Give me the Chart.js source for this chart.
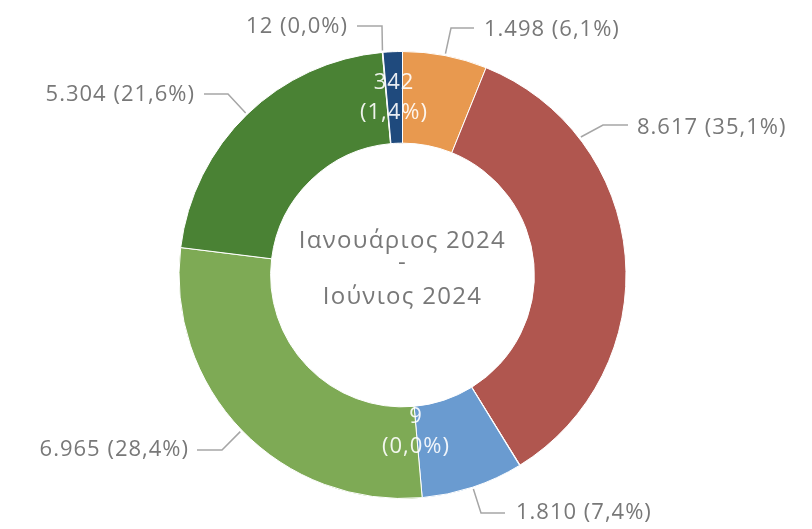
<!DOCTYPE html>
<html>
<head>
<meta charset="utf-8">
<script src="https://cdn.jsdelivr.net/npm/chart.js@4/dist/chart.umd.min.js"></script>
<style>
  html, body { margin: 0; padding: 0; background: #fff; }
  #wrap { width: 812px; height: 529px; }
</style>
</head>
<body>
<div id="wrap"><canvas id="donut"></canvas></div>
<script>
// Data
const categories = ['Κατηγορία 1', 'Κατηγορία 2', 'Κατηγορία 3', 'Κατηγορία 4', 'Κατηγορία 5', 'Κατηγορία 6', 'Κατηγορία 7', 'Κατηγορία 8'];
const values = [1498, 8617, 9, 1810, 6965, 5304, 12, 342];
const percentLabels = ['6,1%', '35,1%', '0,0%', '7,4%', '28,4%', '21,6%', '0,0%', '1,4%'];
const colors = ['#E8994F', '#B0564F', '#8FA6C8', '#6A9BD0', '#7EAA55', '#4A8234', '#9C9C9C', '#1F4A7D'];
const centerLines = ['Ιανουάριος 2024', '-', 'Ιούνιος 2024'];

const fmt = v => v.toLocaleString('de-DE');

// label layout: where the leader leaves the ring (fraction along the slice),
// elbow, end of line, text anchor
const outside = {
  0: { f: 0.5, elbow: [451, 28], end: [474, 28], text: [484, 30], align: 'left' },
  1: { f: 0.24, elbow: [603, 125], end: [628, 125], text: [637, 128], align: 'left' },
  3: { f: 0.5, elbow: [481, 513], end: [505, 513], text: [516, 513], align: 'left' },
  4: { f: 0.5, elbow: [222, 450], end: [197, 450], text: [189, 450], align: 'right' },
  5: { f: 0.5, elbow: [228, 94], end: [204, 94], text: [195, 95], align: 'right' },
  6: { f: 0.5, elbow: [382, 26], end: [357, 26], text: [348, 27], align: 'right' }
};
const inside = {
  7: { text: [394, 83], gap: 30 },
  2: { text: [416, 417], gap: 30 }
};

const labelPlugin = {
  id: 'labels',
  afterDraw(chart) {
    const ctx = chart.ctx;
    const arcs = chart.getDatasetMeta(0).data;
    ctx.save();
    ctx.font = '22px "Open Sans"';
    ctx.letterSpacing = '1px';
    ctx.textBaseline = 'middle';
    arcs.forEach((arc, i) => {
      const txt = fmt(values[i]) + ' (' + percentLabels[i] + ')';
      if (outside[i]) {
        const o = outside[i];
        const a = arc.startAngle + (arc.endAngle - arc.startAngle) * o.f;
        const r = arc.outerRadius + 2;
        const px = arc.x + Math.cos(a) * r, py = arc.y + Math.sin(a) * r;
        ctx.strokeStyle = '#A6A6A6';
        ctx.lineWidth = 1.5;
        ctx.beginPath();
        ctx.moveTo(px, py);
        ctx.lineTo(o.elbow[0], o.elbow[1]);
        ctx.lineTo(o.end[0], o.end[1]);
        ctx.stroke();
        ctx.fillStyle = '#787878';
        ctx.textAlign = o.align;
        ctx.fillText(txt, o.text[0], o.text[1]);
      } else if (inside[i]) {
        const o = inside[i];
        ctx.fillStyle = 'rgba(255,255,255,0.9)';
        ctx.textAlign = 'center';
        ctx.fillText(fmt(values[i]), o.text[0], o.text[1]);
        ctx.fillText('(' + percentLabels[i] + ')', o.text[0], o.text[1] + o.gap);
      }
    });
    // centre text
    const m = arcs[0];
    ctx.font = '24px "Open Sans"';
    ctx.letterSpacing = '1.3px';
    ctx.fillStyle = '#787878';
    ctx.textAlign = 'center';
    ctx.fillText(centerLines[0], m.x, m.y - 34);
    ctx.fillText(centerLines[1], m.x, m.y - 12);
    ctx.fillText(centerLines[2], m.x, m.y + 22);
    ctx.restore();
  }
};

new Chart(document.getElementById('donut'), {
  type: 'doughnut',
  data: {
    labels: categories,
    datasets: [{
      data: values,
      backgroundColor: colors,
      borderColor: '#ffffff',
      borderWidth: 1
    }]
  },
  options: {
    responsive: true,
    maintainAspectRatio: false,
    animation: false,
    cutout: '59%',
    layout: { padding: { top: 51, bottom: 30, left: 0, right: 7 } },
    plugins: {
      legend: { display: false },
      tooltip: { enabled: false }
    }
  },
  plugins: [labelPlugin]
});
</script>
</body>
</html>
